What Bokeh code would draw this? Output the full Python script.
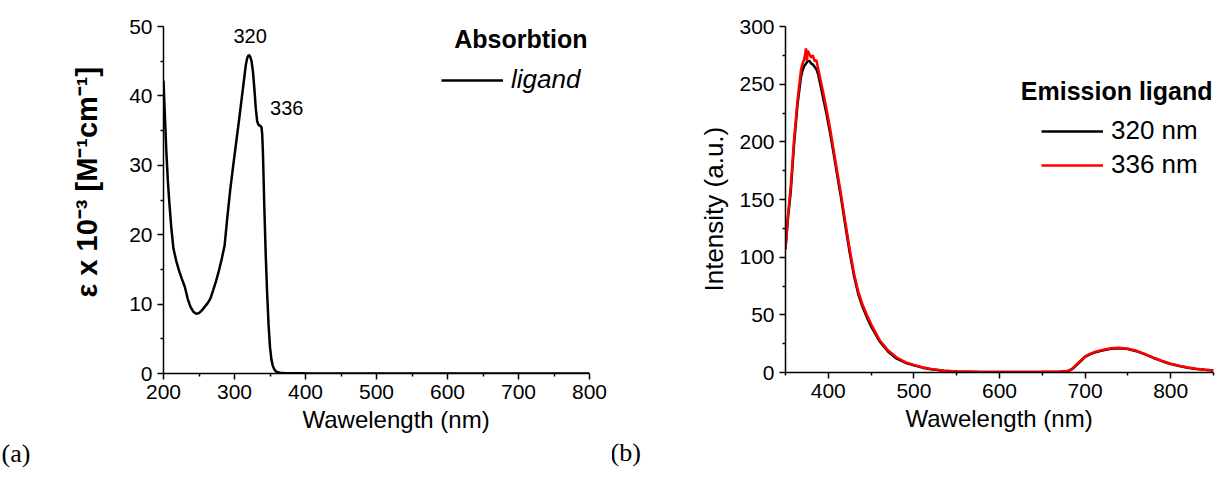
from bokeh.plotting import figure
from bokeh.models import FixedTicker, Label, Legend, LegendItem, Range1d, Title
from bokeh.layouts import row
from bokeh.embed import file_html
from bokeh.resources import INLINE

# ---- absorption spectrum of the ligand ----
abs_wl = [200, 202, 204, 206, 208, 211, 214, 218, 222, 226, 230, 234, 238, 242, 246,
          250, 254, 258, 262, 266, 270, 274, 278, 282, 286, 290, 294, 298, 302, 306,
          310, 313, 316, 318, 320, 322, 324, 326, 328, 330, 332, 334, 336, 338, 339,
          340, 342, 344, 346, 348, 350, 352, 354, 356, 358, 360, 364, 370, 380, 400,
          450, 500, 550, 600, 650, 700, 750, 800]
abs_eps = [42.2, 37.0, 32.0, 28.0, 24.9, 21.0, 18.0, 16.2, 14.8, 13.6, 12.5, 10.8, 9.6, 8.9, 8.6,
           8.7, 9.1, 9.6, 10.1, 10.8, 12.0, 13.3, 14.8, 16.5, 18.4, 22.6, 26.5, 29.8, 33.0, 36.2,
           39.5, 42.0, 44.5, 45.5, 45.9, 45.7, 45.0, 43.5, 41.0, 38.2, 36.3, 35.8, 35.7, 35.5, 34.5,
           32.0, 24.0, 17.0, 11.5, 7.0, 3.8, 2.0, 1.1, 0.6, 0.35, 0.22, 0.12, 0.07, 0.04, 0.02,
           0.01, 0.01, 0.01, 0.01, 0.01, 0.01, 0.01, 0.01]

# ---- emission spectra of the ligand (two excitation wavelengths) ----
em_wl = [350, 353, 356, 360, 364, 368, 370, 372, 374, 375, 376, 378, 380, 382, 384, 386,
         388, 390, 394, 398, 402, 406, 410, 415, 420, 425, 430, 435, 440, 445, 450, 460,
         470, 480, 490, 500, 510, 520, 535, 550, 575, 600, 625, 650, 670, 680, 685, 690,
         695, 700, 705, 710, 720, 730, 740, 750, 760, 770, 780, 790, 800, 810, 820, 830,
         840, 850]
em_320 = [107, 135, 156, 198, 232, 256, 262, 266, 268, 269, 270, 270, 268, 267, 265, 263,
          259, 252, 238, 224, 208, 191, 173, 151, 127, 104, 84, 68, 57, 48, 40, 27,
          18, 12, 8.5, 6.2, 4.2, 2.8, 1.5, 0.8, 0.5, 0.4, 0.4, 0.5, 0.7, 1.2, 3.0, 6.5,
          10, 13.5, 15.5, 17, 19, 20.5, 21, 20.3, 18.5, 15.8, 12.6, 9.8, 7.4, 5.6, 4.2, 3.1,
          2.3, 1.7]
em_336 = [108, 137, 160, 202, 236, 262, 268, 272, 281, 270, 279, 276, 273, 275, 270, 271,
          264, 257, 243, 228, 212, 194, 176, 154, 130, 107, 86, 70, 59, 50, 42, 28,
          19, 13, 9.0, 6.6, 4.5, 3.0, 1.6, 0.9, 0.6, 0.5, 0.5, 0.6, 0.8, 1.4, 3.4, 7.0,
          10.5, 14, 16, 17.5, 19.5, 21, 21.5, 20.6, 18.8, 16, 12.8, 10, 7.6, 5.8, 4.3, 3.2,
          2.4, 1.8]

abs_x_major = [200, 300, 400, 500, 600, 700, 800]
abs_x_minor = [250, 350, 450, 550, 650, 750]
abs_y_major = [0, 10, 20, 30, 40, 50]
abs_y_minor = [5, 15, 25, 35, 45]

em_x_major = [400, 500, 600, 700, 800]
em_x_minor = [350, 450, 550, 650, 750, 850]
em_y_major = [0, 50, 100, 150, 200, 250, 300]
em_y_minor = [25, 75, 125, 175, 225, 275]

SANS = "Liberation Sans"
SERIF = "Liberation Serif"


def style_axes(p):
    p.outline_line_color = None
    p.xgrid.visible = False
    p.ygrid.visible = False
    for ax in (p.xaxis[0], p.yaxis[0]):
        ax.axis_line_width = 1.5
        ax.axis_line_color = "black"
        ax.major_tick_line_width = 1.5
        ax.minor_tick_line_width = 1.5
        ax.major_tick_line_color = "black"
        ax.minor_tick_line_color = "black"
        ax.major_tick_out = 6
        ax.major_tick_in = 0
        ax.minor_tick_out = 3
        ax.minor_tick_in = 0
        ax.major_label_text_font = SANS
        ax.major_label_text_font_size = "21px"
        ax.major_label_text_color = "black"
        ax.major_label_standoff = 5


def side_title(text, align, offset, size, font=SANS, style="normal", standoff=10):
    return Title(text=text, align=align, offset=offset, standoff=standoff,
                 text_font=font, text_font_size=size, text_font_style=style,
                 text_color="black")


# ---------------- panel (a): absorption ----------------
p1 = figure(frame_width=426, frame_height=347,
            min_border_left=163, min_border_right=23, min_border_top=26, min_border_bottom=106,
            x_range=Range1d(200, 800), y_range=Range1d(0, 50),
            output_backend="svg", toolbar_location=None)
style_axes(p1)
p1.xaxis.ticker = FixedTicker(ticks=abs_x_major, minor_ticks=abs_x_minor)
p1.yaxis.ticker = FixedTicker(ticks=abs_y_major, minor_ticks=abs_y_minor)

r_abs = p1.line(abs_wl, abs_eps, line_color="black", line_width=2.5)

# axis titles and panel tag as side titles so they can sit off-centre
p1.add_layout(side_title("Wawelength (nm)", "left", 139, "24px", standoff=4), "below")
p1.add_layout(side_title("(a)", "left", -162, "26px", font=SERIF, standoff=4), "below")
p1.add_layout(side_title("ε x 10⁻³ [M⁻¹cm⁻¹]", "left", 76, "29px", style="bold",
                         standoff=48), "left")

p1.add_layout(Label(x=322, y=47.6, text="320", text_align="center",
                    text_font=SANS, text_font_size="20px", text_color="black"))
p1.add_layout(Label(x=336, y=37.2, x_offset=10, text="336", text_align="left",
                    text_font=SANS, text_font_size="20px", text_color="black"))

p1.add_layout(Label(x=424, y=321, x_units="screen", y_units="screen", text="Absorbtion",
                    text_align="right", text_font=SANS, text_font_size="25px",
                    text_font_style="bold", text_color="black"))
leg1 = Legend(items=[LegendItem(label="ligand", renderers=[r_abs])],
              location=(278, 278), label_text_font=SANS, label_text_font_size="26px",
              label_text_font_style="italic", label_text_color="black",
              glyph_width=62, glyph_height=30, label_height=30, label_standoff=8,
              padding=0, margin=0, spacing=3, border_line_color=None,
              background_fill_alpha=0)
p1.add_layout(leg1)

# ---------------- panel (b): emission ----------------
p2 = figure(frame_width=428, frame_height=346,
            min_border_left=173, min_border_right=11, min_border_top=25, min_border_bottom=108,
            x_range=Range1d(350, 850), y_range=Range1d(0, 300),
            output_backend="svg", toolbar_location=None)
style_axes(p2)
p2.xaxis.ticker = FixedTicker(ticks=em_x_major, minor_ticks=em_x_minor)
p2.yaxis.ticker = FixedTicker(ticks=em_y_major, minor_ticks=em_y_minor)

r_320 = p2.line(em_wl, em_320, line_color="black", line_width=2.5)
r_336 = p2.line(em_wl, em_336, line_color="red", line_width=2.5)

p2.add_layout(side_title("Wawelength (nm)", "left", 120, "24px", standoff=4), "below")
p2.add_layout(side_title("(b)", "left", -175, "26px", font=SERIF, standoff=4), "below")
p2.add_layout(side_title("Intensity (a.u.)", "left", 81, "26px", standoff=16), "left")

p2.add_layout(Label(x=427, y=268, x_units="screen", y_units="screen", text="Emission ligand",
                    text_align="right", text_font=SANS, text_font_size="25px",
                    text_font_style="bold", text_color="black"))
leg2 = Legend(items=[LegendItem(label="320 nm", renderers=[r_320]),
                     LegendItem(label="336 nm", renderers=[r_336])],
              location=(256, 192), label_text_font=SANS, label_text_font_size="26px",
              label_text_color="black",
              glyph_width=62, glyph_height=30, label_height=30, label_standoff=8,
              padding=0, margin=0, spacing=3, border_line_color=None,
              background_fill_alpha=0)
p2.add_layout(leg2)

layout = row(p1, p2)
open("out.html", "w").write(file_html(layout, INLINE))
